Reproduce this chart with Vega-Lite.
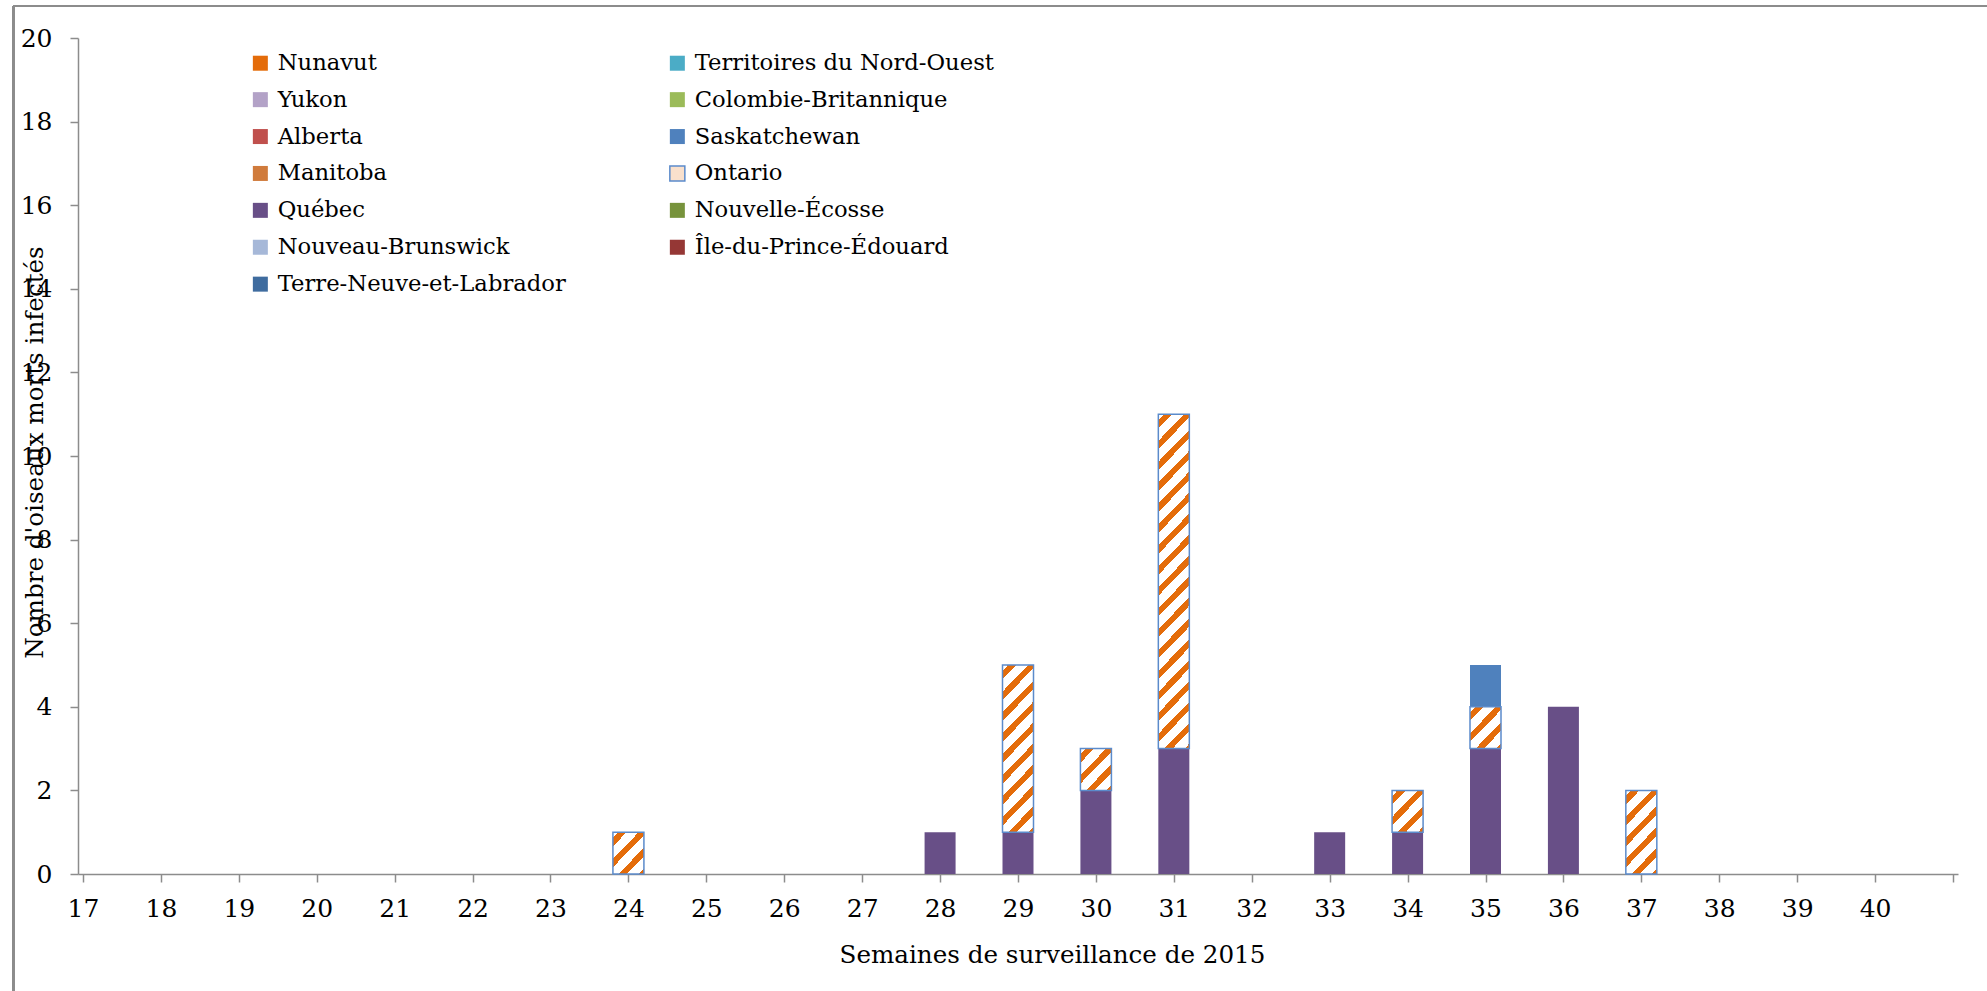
{
  "$schema": "https://vega.github.io/schema/vega-lite/v6.json",
  "width": 1880,
  "height": 836,
  "autosize": {"type": "none"},
  "padding": {"left": 78, "top": 38, "right": 29, "bottom": 117},
  "background": "#ffffff",
  "config": {
    "view": {"stroke": null},
    "font": "DejaVu Serif",
    "axis": {
      "domainColor": "#8c8c8c", "domainWidth": 1.5,
      "tickColor": "#8c8c8c", "tickWidth": 1.5, "tickSize": 8,
      "grid": false,
      "labelFont": "DejaVu Serif", "labelFontSize": 25, "labelColor": "#000000",
      "titleFont": "DejaVu Serif", "titleFontSize": 24.6, "titleColor": "#000000", "titleFontWeight": "normal"
    }
  },
  "data": {"values": [
    {"week": 24, "province": "Ontario", "serie": 8, "count": 1},
    {"week": 28, "province": "Québec", "serie": 9, "count": 1},
    {"week": 29, "province": "Québec", "serie": 9, "count": 1},
    {"week": 29, "province": "Ontario", "serie": 8, "count": 4},
    {"week": 30, "province": "Québec", "serie": 9, "count": 2},
    {"week": 30, "province": "Ontario", "serie": 8, "count": 1},
    {"week": 31, "province": "Québec", "serie": 9, "count": 3},
    {"week": 31, "province": "Ontario", "serie": 8, "count": 8},
    {"week": 33, "province": "Québec", "serie": 9, "count": 1},
    {"week": 34, "province": "Québec", "serie": 9, "count": 1},
    {"week": 34, "province": "Ontario", "serie": 8, "count": 1},
    {"week": 35, "province": "Québec", "serie": 9, "count": 3},
    {"week": 35, "province": "Ontario", "serie": 8, "count": 1},
    {"week": 35, "province": "Saskatchewan", "serie": 6, "count": 1},
    {"week": 36, "province": "Québec", "serie": 9, "count": 4},
    {"week": 37, "province": "Ontario", "serie": 8, "count": 2}
  ]},
  "transform": [
    {"stack": "count", "groupby": ["week"], "sort": [{"field": "serie", "order": "descending"}], "as": ["y0", "y1"]}
  ],
  "layer": [
    {
      "mark": {"type": "rule", "color": "#8c8c8c", "strokeWidth": 2, "clip": false},
      "encoding": {
        "x": {"datum": 16.106, "type": "quantitative"},
        "y": {"datum": -3, "type": "quantitative"},
        "y2": {"datum": 20.7656}
      }
    },
    {
      "mark": {"type": "rule", "color": "#8c8c8c", "strokeWidth": 2, "clip": false},
      "encoding": {
        "x": {"datum": 16.106, "type": "quantitative"},
        "x2": {"datum": 41.5},
        "y": {"datum": 20.7656, "type": "quantitative"}
      }
    },
    {
      "transform": [{"filter": "datum.province !== 'Ontario'"}],
      "mark": {"type": "bar", "width": 31},
      "encoding": {
        "x": {
          "field": "week", "type": "quantitative",
          "scale": {"domain": [17, 41], "nice": false, "zero": false},
          "axis": {
            "values": [17,18,19,20,21,22,23,24,25,26,27,28,29,30,31,32,33,34,35,36,37,38,39,40,41],
            "format": "d",
            "labelExpr": "datum.value == 41 ? '' : datum.label",
            "labelPadding": 14,
            "title": "Semaines de surveillance de 2015",
            "titleX": 974, "titleY": 88, "titleAlign": "center", "titleBaseline": "alphabetic"
          }
        },
        "y": {
          "field": "y0", "type": "quantitative",
          "scale": {"domain": [0, 20], "nice": false},
          "axis": {
            "values": [0,2,4,6,8,10,12,14,16,18,20],
            "format": "d",
            "labelPadding": 18,
            "title": "Nombre d'oiseaux morts infectés",
            "titleAngle": -90, "titleX": -43, "titleY": 414,
            "titleAlign": "center", "titleBaseline": "middle"
          }
        },
        "y2": {"field": "y1"},
        "color": {
          "field": "province", "type": "nominal",
          "scale": {
            "domain": ["Nunavut", "Territoires du Nord-Ouest", "Yukon", "Colombie-Britannique", "Alberta", "Saskatchewan", "Manitoba", "Ontario", "Québec", "Nouvelle-Écosse", "Nouveau-Brunswick", "Île-du-Prince-Édouard", "Terre-Neuve-et-Labrador"],
            "range": ["#E46C0A", "#4BACC6", "#B3A2C7", "#9BBB59", "#C0504D", "#4F81BD", "#D07B3C", "#F9E0CC", "#684F87", "#77933C", "#A6B8D8", "#953735", "#3F6C9F"]
          },
          "legend": {
            "orient": "none", "legendX": 171, "legendY": 13.4,
            "direction": "horizontal",
            "columns": 2, "columnPadding": 100, "rowPadding": 12.9,
            "symbolType": "square", "symbolSize": 225, "symbolStrokeWidth": 0,
            "labelFont": "DejaVu Serif", "labelFontSize": 22.7, "labelColor": "#000000",
            "labelOffset": 6, "labelLimit": 500, "title": null, "padding": 0,
            "encode": {
              "symbols": {
                "update": {
                  "stroke": [
                    {"test": "datum.value === 'Ontario'", "value": "#5B8BCB"},
                    {"value": "transparent"}
                  ],
                  "strokeWidth": {"value": 1.5}
                }
              }
            }
          }
        }
      }
    },
    {
      "transform": [{"filter": "datum.province === 'Ontario' && datum.count === 1"}],
      "mark": {"type": "bar", "width": 31, "stroke": "#5B8BCB", "strokeWidth": 1.5,
        "fill": {"gradient": "linear", "x1": 0, "y1": 0, "x2": 0.8522, "y2": 1.1131, "stops": [
          {"offset": 0, "color": "#ffffff"}, {"offset": 0.0766, "color": "#ffffff"}, {"offset": 0.0766, "color": "#E46C0A"},
          {"offset": 0.1916, "color": "#E46C0A"}, {"offset": 0.1916, "color": "#ffffff"}, {"offset": 0.3602, "color": "#ffffff"},
          {"offset": 0.3602, "color": "#E46C0A"}, {"offset": 0.4751, "color": "#E46C0A"}, {"offset": 0.4751, "color": "#ffffff"},
          {"offset": 0.6437, "color": "#ffffff"}, {"offset": 0.6437, "color": "#E46C0A"}, {"offset": 0.7586, "color": "#E46C0A"},
          {"offset": 0.7586, "color": "#ffffff"}, {"offset": 0.9272, "color": "#ffffff"}, {"offset": 0.9272, "color": "#E46C0A"},
          {"offset": 1, "color": "#E46C0A"}]}},
      "encoding": {
        "x": {"field": "week", "type": "quantitative"},
        "y": {"field": "y0", "type": "quantitative"},
        "y2": {"field": "y1"}
      }
    },
    {
      "transform": [{"filter": "datum.province === 'Ontario' && datum.count === 2"}],
      "mark": {"type": "bar", "width": 31, "stroke": "#5B8BCB", "strokeWidth": 1.5,
        "fill": {"gradient": "linear", "x1": 0, "y1": 0, "x2": 0.4617, "y2": 1.2061, "stops": [
          {"offset": 0, "color": "#ffffff"}, {"offset": 0.0489, "color": "#ffffff"}, {"offset": 0.0489, "color": "#E46C0A"},
          {"offset": 0.1223, "color": "#E46C0A"}, {"offset": 0.1223, "color": "#ffffff"}, {"offset": 0.2300, "color": "#ffffff"},
          {"offset": 0.2300, "color": "#E46C0A"}, {"offset": 0.3034, "color": "#E46C0A"}, {"offset": 0.3034, "color": "#ffffff"},
          {"offset": 0.4111, "color": "#ffffff"}, {"offset": 0.4111, "color": "#E46C0A"}, {"offset": 0.4845, "color": "#E46C0A"},
          {"offset": 0.4845, "color": "#ffffff"}, {"offset": 0.5921, "color": "#ffffff"}, {"offset": 0.5921, "color": "#E46C0A"},
          {"offset": 0.6655, "color": "#E46C0A"}, {"offset": 0.6655, "color": "#ffffff"}, {"offset": 0.7732, "color": "#ffffff"},
          {"offset": 0.7732, "color": "#E46C0A"}, {"offset": 0.8466, "color": "#E46C0A"}, {"offset": 0.8466, "color": "#ffffff"},
          {"offset": 0.9542, "color": "#ffffff"}, {"offset": 0.9542, "color": "#E46C0A"}, {"offset": 1, "color": "#E46C0A"}]}},
      "encoding": {
        "x": {"field": "week", "type": "quantitative"},
        "y": {"field": "y0", "type": "quantitative"},
        "y2": {"field": "y1"}
      }
    },
    {
      "transform": [{"filter": "datum.province === 'Ontario' && datum.count === 4"}],
      "mark": {"type": "bar", "width": 31, "stroke": "#5B8BCB", "strokeWidth": 1.5,
        "fill": {"gradient": "linear", "x1": 0, "y1": 0, "x2": 0.22, "y2": 1.1493, "stops": [
          {"offset": 0, "color": "#ffffff"}, {"offset": 0.0284, "color": "#ffffff"}, {"offset": 0.0284, "color": "#E46C0A"},
          {"offset": 0.0710, "color": "#E46C0A"}, {"offset": 0.0710, "color": "#ffffff"}, {"offset": 0.1335, "color": "#ffffff"},
          {"offset": 0.1335, "color": "#E46C0A"}, {"offset": 0.1761, "color": "#E46C0A"}, {"offset": 0.1761, "color": "#ffffff"},
          {"offset": 0.2385, "color": "#ffffff"}, {"offset": 0.2385, "color": "#E46C0A"}, {"offset": 0.2811, "color": "#E46C0A"},
          {"offset": 0.2811, "color": "#ffffff"}, {"offset": 0.3436, "color": "#ffffff"}, {"offset": 0.3436, "color": "#E46C0A"},
          {"offset": 0.3862, "color": "#E46C0A"}, {"offset": 0.3862, "color": "#ffffff"}, {"offset": 0.4487, "color": "#ffffff"},
          {"offset": 0.4487, "color": "#E46C0A"}, {"offset": 0.4913, "color": "#E46C0A"}, {"offset": 0.4913, "color": "#ffffff"},
          {"offset": 0.5537, "color": "#ffffff"}, {"offset": 0.5537, "color": "#E46C0A"}, {"offset": 0.5963, "color": "#E46C0A"},
          {"offset": 0.5963, "color": "#ffffff"}, {"offset": 0.6588, "color": "#ffffff"}, {"offset": 0.6588, "color": "#E46C0A"},
          {"offset": 0.7014, "color": "#E46C0A"}, {"offset": 0.7014, "color": "#ffffff"}, {"offset": 0.7639, "color": "#ffffff"},
          {"offset": 0.7639, "color": "#E46C0A"}, {"offset": 0.8065, "color": "#E46C0A"}, {"offset": 0.8065, "color": "#ffffff"},
          {"offset": 0.8689, "color": "#ffffff"}, {"offset": 0.8689, "color": "#E46C0A"}, {"offset": 0.9115, "color": "#E46C0A"},
          {"offset": 0.9115, "color": "#ffffff"}, {"offset": 0.9740, "color": "#ffffff"}, {"offset": 0.9740, "color": "#E46C0A"},
          {"offset": 1, "color": "#E46C0A"}]}},
      "encoding": {
        "x": {"field": "week", "type": "quantitative"},
        "y": {"field": "y0", "type": "quantitative"},
        "y2": {"field": "y1"}
      }
    },
    {
      "transform": [{"filter": "datum.province === 'Ontario' && datum.count === 8"}],
      "mark": {"type": "bar", "width": 31, "stroke": "#5B8BCB", "strokeWidth": 1.5,
        "fill": {"gradient": "linear", "x1": 0, "y1": 0, "x2": 0.1039, "y2": 1.0857, "stops": [
          {"offset": 0, "color": "#ffffff"}, {"offset": 0.0154, "color": "#ffffff"}, {"offset": 0.0154, "color": "#E46C0A"},
          {"offset": 0.0386, "color": "#E46C0A"}, {"offset": 0.0386, "color": "#ffffff"}, {"offset": 0.0726, "color": "#ffffff"},
          {"offset": 0.0726, "color": "#E46C0A"}, {"offset": 0.0957, "color": "#E46C0A"}, {"offset": 0.0957, "color": "#ffffff"},
          {"offset": 0.1297, "color": "#ffffff"}, {"offset": 0.1297, "color": "#E46C0A"}, {"offset": 0.1528, "color": "#E46C0A"},
          {"offset": 0.1528, "color": "#ffffff"}, {"offset": 0.1868, "color": "#ffffff"}, {"offset": 0.1868, "color": "#E46C0A"},
          {"offset": 0.2100, "color": "#E46C0A"}, {"offset": 0.2100, "color": "#ffffff"}, {"offset": 0.2439, "color": "#ffffff"},
          {"offset": 0.2439, "color": "#E46C0A"}, {"offset": 0.2671, "color": "#E46C0A"}, {"offset": 0.2671, "color": "#ffffff"},
          {"offset": 0.3011, "color": "#ffffff"}, {"offset": 0.3011, "color": "#E46C0A"}, {"offset": 0.3242, "color": "#E46C0A"},
          {"offset": 0.3242, "color": "#ffffff"}, {"offset": 0.3582, "color": "#ffffff"}, {"offset": 0.3582, "color": "#E46C0A"},
          {"offset": 0.3813, "color": "#E46C0A"}, {"offset": 0.3813, "color": "#ffffff"}, {"offset": 0.4153, "color": "#ffffff"},
          {"offset": 0.4153, "color": "#E46C0A"}, {"offset": 0.4385, "color": "#E46C0A"}, {"offset": 0.4385, "color": "#ffffff"},
          {"offset": 0.4724, "color": "#ffffff"}, {"offset": 0.4724, "color": "#E46C0A"}, {"offset": 0.4956, "color": "#E46C0A"},
          {"offset": 0.4956, "color": "#ffffff"}, {"offset": 0.5296, "color": "#ffffff"}, {"offset": 0.5296, "color": "#E46C0A"},
          {"offset": 0.5527, "color": "#E46C0A"}, {"offset": 0.5527, "color": "#ffffff"}, {"offset": 0.5867, "color": "#ffffff"},
          {"offset": 0.5867, "color": "#E46C0A"}, {"offset": 0.6098, "color": "#E46C0A"}, {"offset": 0.6098, "color": "#ffffff"},
          {"offset": 0.6438, "color": "#ffffff"}, {"offset": 0.6438, "color": "#E46C0A"}, {"offset": 0.6670, "color": "#E46C0A"},
          {"offset": 0.6670, "color": "#ffffff"}, {"offset": 0.7009, "color": "#ffffff"}, {"offset": 0.7009, "color": "#E46C0A"},
          {"offset": 0.7241, "color": "#E46C0A"}, {"offset": 0.7241, "color": "#ffffff"}, {"offset": 0.7580, "color": "#ffffff"},
          {"offset": 0.7580, "color": "#E46C0A"}, {"offset": 0.7812, "color": "#E46C0A"}, {"offset": 0.7812, "color": "#ffffff"},
          {"offset": 0.8152, "color": "#ffffff"}, {"offset": 0.8152, "color": "#E46C0A"}, {"offset": 0.8383, "color": "#E46C0A"},
          {"offset": 0.8383, "color": "#ffffff"}, {"offset": 0.8723, "color": "#ffffff"}, {"offset": 0.8723, "color": "#E46C0A"},
          {"offset": 0.8954, "color": "#E46C0A"}, {"offset": 0.8954, "color": "#ffffff"}, {"offset": 0.9294, "color": "#ffffff"},
          {"offset": 0.9294, "color": "#E46C0A"}, {"offset": 0.9526, "color": "#E46C0A"}, {"offset": 0.9526, "color": "#ffffff"},
          {"offset": 0.9865, "color": "#ffffff"}, {"offset": 0.9865, "color": "#E46C0A"}, {"offset": 1, "color": "#E46C0A"}]}},
      "encoding": {
        "x": {"field": "week", "type": "quantitative"},
        "y": {"field": "y0", "type": "quantitative"},
        "y2": {"field": "y1"}
      }
    }
  ]
}
